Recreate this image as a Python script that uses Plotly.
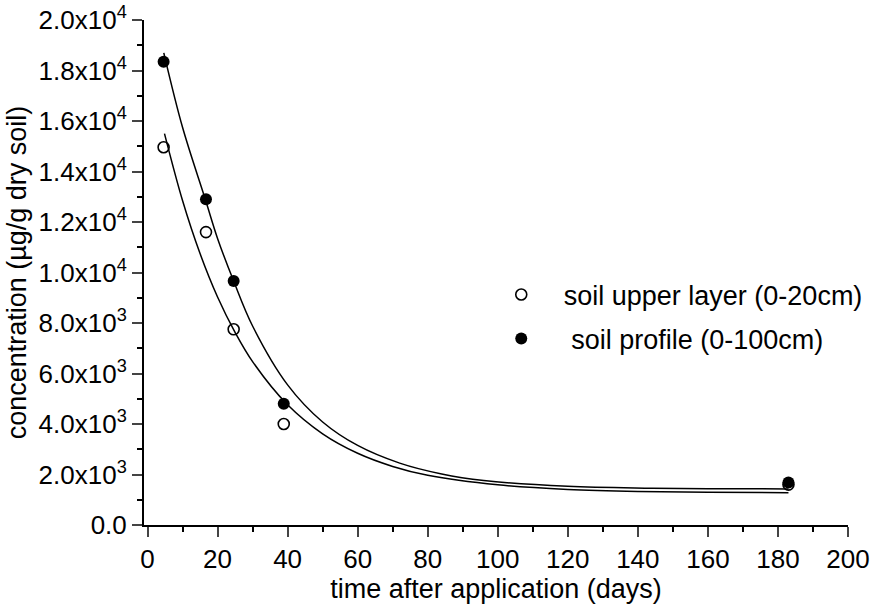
import plotly.graph_objects as go

# measured points (days, concentration µg/g dry soil)
days_pts = [4.6, 16.7, 24.6, 38.9, 183.0]
upper_pts = [14960, 11600, 7750, 4000, 1600]
profile_pts = [18350, 12900, 9660, 4800, 1680]

# fitted curves
upper_fit_x = [4.85, 10, 15, 20, 25, 30, 40, 50, 60, 70, 80, 100, 120, 140, 160, 183]
upper_fit_y = [15500, 12850, 10750, 9030, 7630, 6470, 4760, 3610, 2840, 2320, 1970, 1590, 1410, 1330, 1300, 1280]
profile_fit_x = [4.65, 10, 16.5, 20, 24.6, 30, 40, 50, 60, 72, 84, 96, 120, 144, 160, 183]
profile_fit_y = [18700, 15750, 12900, 11350, 9660, 7880, 5550, 4080, 3150, 2450, 2020, 1760, 1530, 1460, 1440, 1430]

y_ticks = [0, 2000, 4000, 6000, 8000, 10000, 12000, 14000, 16000, 18000, 20000]
y_ticktext = ["0.0", "2.0x10<sup>3</sup>", "4.0x10<sup>3</sup>", "6.0x10<sup>3</sup>", "8.0x10<sup>3</sup>",
              "1.0x10<sup>4</sup>", "1.2x10<sup>4</sup>", "1.4x10<sup>4</sup>", "1.6x10<sup>4</sup>",
              "1.8x10<sup>4</sup>", "2.0x10<sup>4</sup>"]
x_ticks = [0, 20, 40, 60, 80, 100, 120, 140, 160, 180, 200]

FONT = "Liberation Sans, Arial, sans-serif"

fig = go.Figure()
fig.add_trace(go.Scatter(x=upper_fit_x, y=upper_fit_y, mode="lines",
                         line=dict(color="black", width=1.5, shape="spline", smoothing=1.0),
                         showlegend=False, hoverinfo="skip"))
fig.add_trace(go.Scatter(x=profile_fit_x, y=profile_fit_y, mode="lines",
                         line=dict(color="black", width=1.5, shape="spline", smoothing=1.0),
                         showlegend=False, hoverinfo="skip"))
fig.add_trace(go.Scatter(x=days_pts, y=upper_pts, mode="markers", name="soil upper layer (0-20cm)",
                         legendgroup="a",
                         marker=dict(symbol="circle-open", size=11, color="black", line=dict(width=1.6))))
fig.add_trace(go.Scatter(x=days_pts, y=profile_pts, mode="markers", name=" soil profile (0-100cm)",
                         legendgroup="b",
                         marker=dict(symbol="circle", size=12, color="black")))

fig.update_layout(
    width=872, height=606,
    margin=dict(l=143.5, r=24, t=20, b=81, autoexpand=False),
    paper_bgcolor="white", plot_bgcolor="white",
    font=dict(family=FONT, color="black", size=27),
    showlegend=True,
    legend=dict(x=0.4755, y=0.412, xanchor="left", yanchor="middle",
                font=dict(size=27, family=FONT), bgcolor="rgba(0,0,0,0)",
                tracegroupgap=6, itemwidth=75),
    xaxis=dict(range=[-1, 200], tickvals=x_ticks, ticks="outside", ticklen=10, tickwidth=2,
               showline=True, linewidth=2, linecolor="black", showgrid=False, zeroline=False,
               tickfont=dict(size=26), automargin=False,
               minor=dict(dtick=10, tick0=0, ticks="outside", ticklen=5, tickwidth=2, tickcolor="black"),
               title=dict(text="time after application (days)", font=dict(size=27), standoff=2)),
    yaxis=dict(range=[0, 20000], tickvals=y_ticks, ticktext=y_ticktext, ticks="outside", ticklen=10,
               tickwidth=2, showline=True, linewidth=2, linecolor="black", showgrid=False, zeroline=False,
               tickfont=dict(size=26), automargin=False,
               minor=dict(dtick=1000, tick0=0, ticks="outside", ticklen=5, tickwidth=2, tickcolor="black"),
               title=dict(text="concentration (µg/g dry soil)", font=dict(size=27), standoff=4)),
)

fig.write_html("out.html")
